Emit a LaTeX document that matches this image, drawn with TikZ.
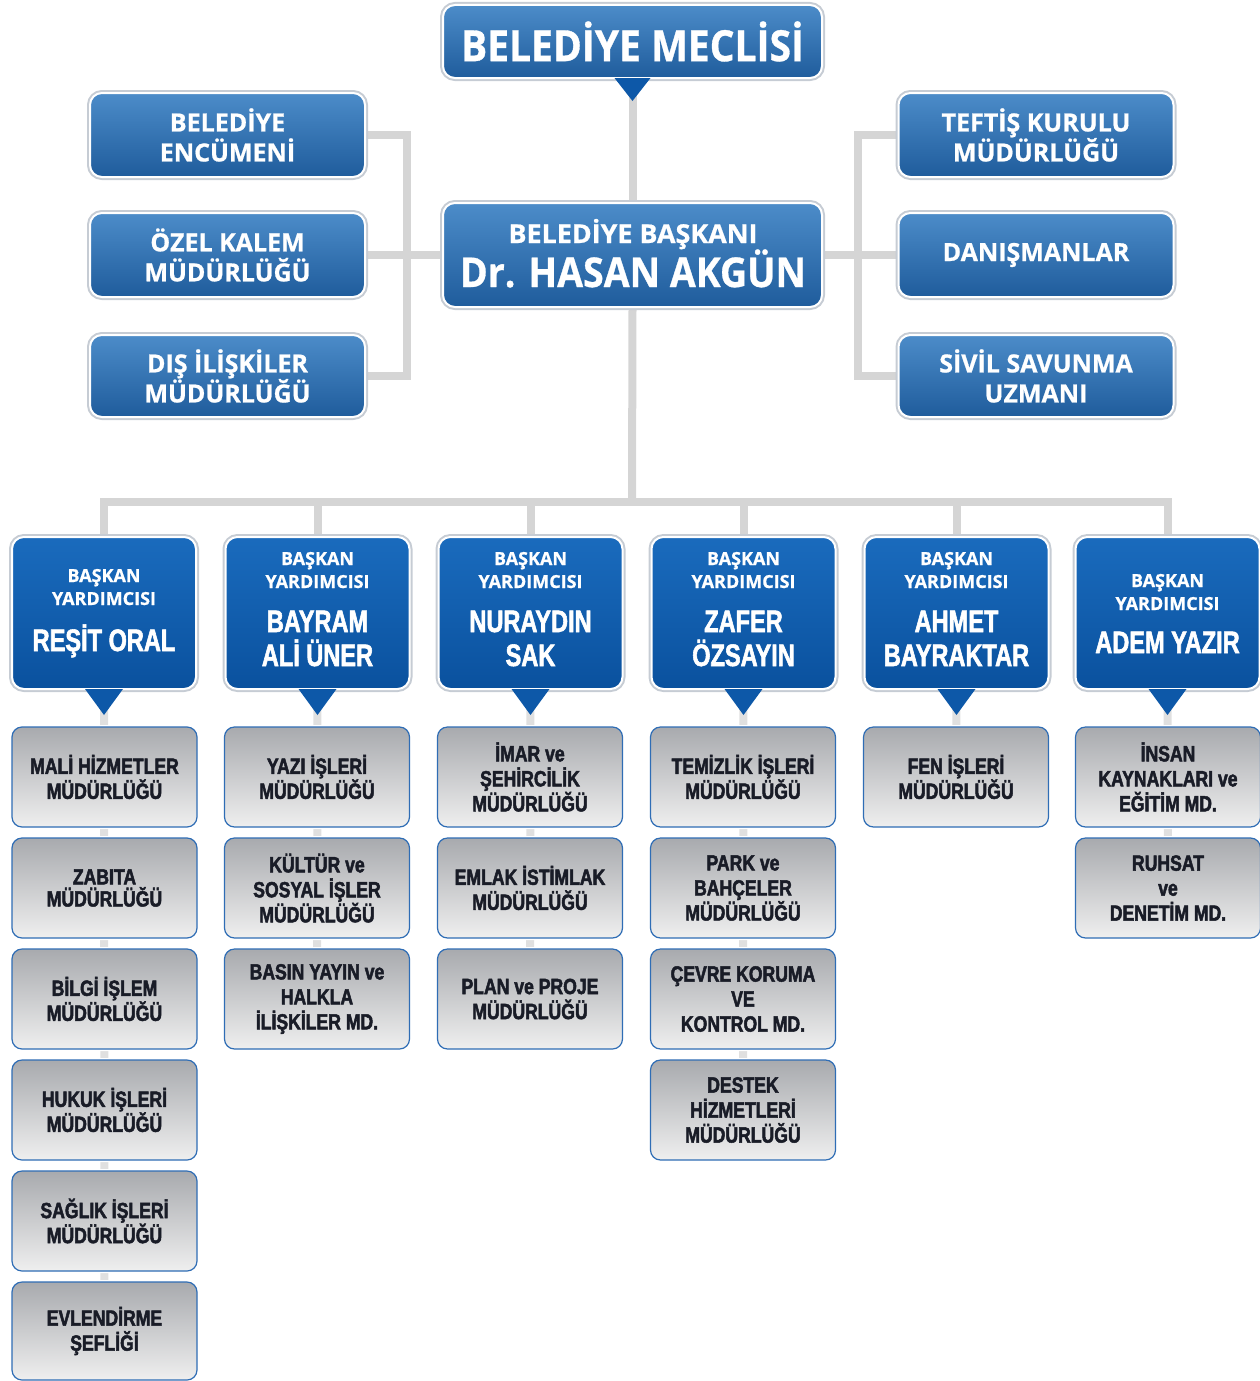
\documentclass[tikz,border=0pt]{standalone}
\usepackage{fontspec}
\usepackage{graphicx}
\usetikzlibrary{calc,backgrounds}
\newfontfamily\hum{Open Sans}[BoldFeatures={FakeBold=0.8}]
\newfontfamily\cond{Liberation Sans}[FakeStretch=0.8, BoldFont={Liberation Sans Bold}, BoldFeatures={FakeStretch=0.8, FakeBold=2.2}]
\newfontfamily\condn{Liberation Sans}[FakeStretch=0.76, BoldFont={Liberation Sans Bold}, BoldFeatures={FakeStretch=0.76, FakeBold=1.8}]
\newcommand{\fitw}[2]{\resizebox{#1}{\height}{#2}}
\definecolor{tbT}{HTML}{4C8CC9}
\definecolor{tbM}{HTML}{2E6EB1}
\definecolor{tbB}{HTML}{1F5C9C}
\definecolor{dT}{HTML}{1A6BBD}
\definecolor{dB}{HTML}{0A519E}
\definecolor{ptrc}{HTML}{0D58A8}
\definecolor{gT}{HTML}{A8AAAE}
\definecolor{gB}{HTML}{EFEFEF}
\definecolor{gborder}{HTML}{2F6DB5}
\definecolor{gtext}{HTML}{191C27}
\definecolor{halo}{HTML}{C6CCD4}
\definecolor{connc}{HTML}{D5D5D5}
\definecolor{subc}{HTML}{E0E0E0}
\tikzset{
  conn/.style={draw=connc, line width=8pt},
  subconn/.style={draw=subc, line width=8pt},
  bluebox/.style={rounded corners=12pt, top color=tbT, middle color=tbM, bottom color=tbB,
    draw=white, line width=2pt, preaction={draw=halo, line width=6pt},
    text=white, align=center, inner sep=0pt},
  sidebox/.style={bluebox, minimum width=275pt, minimum height=84pt,
    font=\hum\bfseries\fontsize{25}{30}\selectfont},
  depbox/.style={rounded corners=12pt, top color=dT, bottom color=dB,
    draw=white, line width=2pt, preaction={draw=halo, line width=6pt},
    minimum width=184pt, minimum height=152pt, inner sep=0pt},
  graybox/.style={rounded corners=10pt, top color=gT, bottom color=gB,
    draw=gborder, line width=1.2pt, preaction={draw=white, line width=4pt},
    minimum width=185pt, minimum height=100pt, text=gtext, align=center, inner sep=0pt,
    font=\cond\bfseries\fontsize{22}{25}\selectfont},
  hdr/.style={text=white, font=\hum\bfseries\fontsize{18}{23}\selectfont, anchor=base, inner sep=0pt},
  nm/.style={text=white, font=\condn\bfseries\fontsize{31}{34}\selectfont, anchor=base, inner sep=0pt},
  ptr/.style={fill=ptrc},
}
\begin{document}
\begin{tikzpicture}[x=1pt,y=-1pt]
\useasboundingbox (0,0) rectangle (1260,1381);

% top boxes
\node[bluebox, minimum width=379pt, minimum height=73pt] (meclis) at (632.5,41.5)
  {\hum\bfseries\fontsize{43}{48}\selectfont\fitw{343pt}{BELEDİYE MECLİSİ}};
\node[bluebox, minimum width=379pt, minimum height=104pt] (mayor) at (632.5,255) {};
\node[text=white, anchor=base, inner sep=0pt, font=\hum\bfseries\fontsize{26}{30}\selectfont] (mayor1) at (633,243) {\fitw{249pt}{BELEDİYE BAŞKANI}};
\node[text=white, anchor=base, inner sep=0pt, font=\hum\bfseries\fontsize{41}{44}\selectfont] (mayor2) at (633,287) {\fitw{346pt}{Dr. HASAN AKGÜN}};

\node[sidebox] (l1) at (227.5,135) {BELEDİYE\\ENCÜMENİ};
\node[sidebox] (l2) at (227.5,255) {ÖZEL KALEM\\MÜDÜRLÜĞÜ};
\node[sidebox, minimum height=82pt] (l3) at (227.5,376) {DIŞ İLİŞKİLER\\MÜDÜRLÜĞÜ};
\node[sidebox] (r1) at (1036,135) {TEFTİŞ KURULU\\MÜDÜRLÜĞÜ};
\node[sidebox] (r2) at (1036,255) {DANIŞMANLAR};
\node[sidebox, minimum height=82pt] (r3) at (1036,376) {SİVİL SAVUNMA\\UZMANI};

% deputies
\node[depbox] (d1) at (104,613) {};
\node[depbox] (d2) at (317.5,613) {};
\node[depbox] (d3) at (530.5,613) {};
\node[depbox] (d4) at (743.5,613) {};
\node[depbox] (d5) at (956.5,613) {};
\node[depbox] (d6) at (1167.5,613) {};

\node[hdr] (d1a) at (104,582) {BAŞKAN};
\node[hdr] (d1b) at (104,605) {YARDIMCISI};
\node[nm]  (d1c) at (104,651) {REŞİT ORAL};
\node[hdr] (d6a) at (1167.5,587) {BAŞKAN};
\node[hdr] (d6b) at (1167.5,610) {YARDIMCISI};
\node[nm]  (d6c) at (1167.5,653) {ADEM YAZIR};
\foreach \n/\x/\a/\b in {2/317.5/BAYRAM/ALİ ÜNER, 3/530.5/NURAYDIN/SAK, 4/743.5/ZAFER/ÖZSAYIN, 5/956.5/AHMET/BAYRAKTAR}{
  \node[hdr] (d\n a) at (\x,565) {BAŞKAN};
  \node[hdr] (d\n b) at (\x,588) {YARDIMCISI};
  \node[nm]  (d\n c) at (\x,632) {\a};
  \node[nm]  (d\n d) at (\x,666) {\b};
}

% gray boxes
\node[graybox] (g11) at (104.5,777) {MALİ HİZMETLER\\MÜDÜRLÜĞÜ};
\node[graybox, font=\cond\bfseries\fontsize{22}{22}\selectfont] (g12) at (104.5,888) {ZABITA\\MÜDÜRLÜĞÜ};
\node[graybox] (g13) at (104.5,999) {BİLGİ İŞLEM\\MÜDÜRLÜĞÜ};
\node[graybox] (g14) at (104.5,1110) {HUKUK İŞLERİ\\MÜDÜRLÜĞÜ};
\node[graybox] (g15) at (104.5,1221) {SAĞLIK İŞLERİ\\MÜDÜRLÜĞÜ};
\node[graybox, minimum height=98pt] (g16) at (104.5,1331) {EVLENDİRME\\ŞEFLİĞİ};

\node[graybox] (g21) at (317,777) {YAZI İŞLERİ\\MÜDÜRLÜĞÜ};
\node[graybox] (g22) at (317,888) {KÜLTÜR ve\\SOSYAL İŞLER\\MÜDÜRLÜĞÜ};
\node[graybox] (g23) at (317,999) {BASIN YAYIN ve\\HALKLA\\İLİŞKİLER MD.};

\node[graybox] (g31) at (530,777) {İMAR ve\\ŞEHİRCİLİK\\MÜDÜRLÜĞÜ};
\node[graybox] (g32) at (530,888) {EMLAK İSTİMLAK\\MÜDÜRLÜĞÜ};
\node[graybox] (g33) at (530,999) {PLAN ve PROJE\\MÜDÜRLÜĞÜ};

\node[graybox] (g41) at (743,777) {TEMİZLİK İŞLERİ\\MÜDÜRLÜĞÜ};
\node[graybox] (g42) at (743,888) {PARK ve\\BAHÇELER\\MÜDÜRLÜĞÜ};
\node[graybox] (g43) at (743,999) {ÇEVRE KORUMA\\VE\\KONTROL MD.};
\node[graybox] (g44) at (743,1110) {DESTEK\\HİZMETLERİ\\MÜDÜRLÜĞÜ};

\node[graybox] (g51) at (956,777) {FEN İŞLERİ\\MÜDÜRLÜĞÜ};

\node[graybox] (g61) at (1168,777) {İNSAN\\KAYNAKLARI ve\\EĞİTİM MD.};
\node[graybox] (g62) at (1168,888) {RUHSAT\\ve\\DENETİM MD.};

% pointers
\fill[ptr] ($(meclis.south)+(-18,-1)$) -- ($(meclis.south)+(18,-1)$) -- ($(meclis.south)+(0,22)$) -- cycle;
\foreach \k in {1,...,6}{
  \fill[ptr] ($(d\k.south)+(-19,-1)$) -- ($(d\k.south)+(19,-1)$) -- ($(d\k.south)+(0,25)$) -- cycle;
}

% connectors
\begin{scope}[on background layer]
  \coordinate (lj) at (407,255);
  \coordinate (rj) at (858,255);
  \coordinate (bus) at (632,502);
  \draw[conn] (meclis.south) -- (mayor.north);
  \draw[conn] (mayor.south) -- (bus);
  \draw[conn] (l1.east) -| (lj) |- (l3.east);
  \draw[conn] (l2.east) -- (mayor.west);
  \draw[conn] (r1.west) -| (rj) |- (r3.west);
  \draw[conn] (mayor.east) -- (r2.west);
  \draw[conn] (d1.north) -- (d1.north |- bus) -- (d6.north |- bus) -- (d6.north);
  \foreach \k in {2,...,5}{ \draw[conn] (d\k.north |- bus) -- (d\k.north); }
  \draw[subconn] (d1.south) -- (g16.center);
  \draw[subconn] (d2.south) -- (g23.center);
  \draw[subconn] (d3.south) -- (g33.center);
  \draw[subconn] (d4.south) -- (g44.center);
  \draw[subconn] (d5.south) -- (g51.center);
  \draw[subconn] (d6.south) -- (g62.center);
\end{scope}
\end{tikzpicture}
\end{document}
